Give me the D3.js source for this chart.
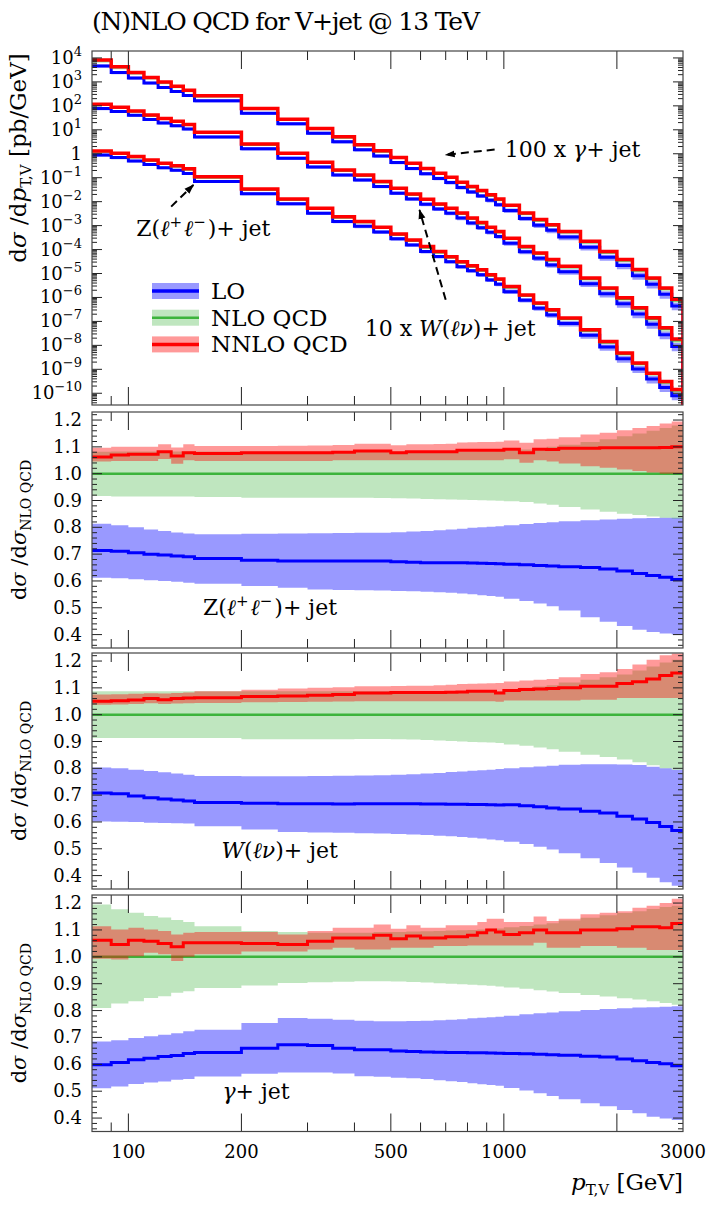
<!DOCTYPE html>
<html>
<head>
<meta charset="utf-8">
<script src="https://cdn.jsdelivr.net/npm/d3@7"></script>
<style>
  body { margin: 0; background: #fff; }
  text { font-family: "DejaVu Serif", "Liberation Serif", serif; fill: #000; }
</style>
</head>
<body>
<div id="chart"></div>
<script>
// ---- data ----
const binEdges = [80, 90, 100, 110, 120, 130, 140, 150, 200, 250, 300, 350, 400, 450, 500, 550, 600, 650, 700,
    750, 800, 850, 900, 950, 1000, 1100, 1200, 1300, 1400, 1600, 1800, 2000, 2200, 2400, 2600, 2800, 3000];

// NLO QCD dsigma/dpT [pb/GeV], unscaled
const nloGamma = [77.6, 40.7, 23.4, 14.5, 9.33, 6.31, 4.27, 2.51, 0.741, 0.263, 0.107, 0.0479, 0.0224, 0.0123,
    6.61e-3, 3.72e-3, 2.29e-3, 1.45e-3, 9.77e-4, 6.03e-4, 3.98e-4, 2.69e-4, 1.78e-4, 1.17e-4, 6.61e-5, 3.09e-5,
    1.62e-5, 1.00e-5, 5.25e-6, 2.00e-6, 7.59e-7, 3.47e-7, 1.32e-7, 5.89e-8, 2.24e-8, 7.41e-9];
const nloW = [11.0, 8.32, 5.75, 3.89, 2.82, 2.14, 1.58, 0.741, 0.240, 0.0977, 0.0417, 0.0195, 0.0120, 6.46e-3,
    3.39e-3, 1.95e-3, 1.17e-3, 7.41e-4, 4.90e-4, 3.09e-4, 1.91e-4, 1.23e-4, 7.94e-5, 5.25e-5, 2.75e-5, 1.23e-5,
    6.61e-6, 3.47e-6, 1.82e-6, 5.89e-7, 2.24e-7, 8.71e-8, 3.31e-8, 1.26e-8, 4.79e-9, 1.58e-9];
const nloZ = [1.23, 0.977, 0.708, 0.513, 0.372, 0.295, 0.219, 0.102, 0.0316, 0.0120, 4.90e-3, 2.19e-3, 1.38e-3,
    7.94e-4, 4.17e-4, 2.34e-4, 1.23e-4, 7.59e-5, 4.68e-5, 2.88e-5, 1.95e-5, 1.32e-5, 8.13e-6, 5.37e-6, 2.63e-6,
    1.17e-6, 5.37e-7, 2.82e-7, 1.26e-7, 4.07e-8, 1.32e-8, 4.37e-9, 1.66e-9, 6.31e-10, 2.82e-10, 1.29e-10];
const scaleFactors = {gamma: 100, w: 10, z: 1};

// ratios to NLO QCD : Z(ll)+jet
const zLO = [0.714, 0.711, 0.705, 0.700, 0.697, 0.693, 0.690, 0.684, 0.677, 0.674, 0.674, 0.674, 0.674, 0.674, 0.672, 0.670, 0.668, 0.668,
    0.668, 0.668, 0.667, 0.666, 0.665, 0.664, 0.662, 0.660, 0.658, 0.656, 0.653, 0.650, 0.645, 0.637, 0.628, 0.620, 0.614, 0.605];
const zLOlo = [0.612, 0.610, 0.606, 0.603, 0.600, 0.597, 0.593, 0.590, 0.581, 0.575, 0.568, 0.566, 0.565, 0.564, 0.563, 0.562, 0.560, 0.558,
    0.556, 0.553, 0.550, 0.547, 0.544, 0.541, 0.534, 0.525, 0.516, 0.506, 0.490, 0.465, 0.448, 0.432, 0.418, 0.410, 0.404, 0.400];
const zLOhi = [0.813, 0.808, 0.800, 0.792, 0.786, 0.781, 0.777, 0.774, 0.776, 0.777, 0.778, 0.779, 0.780, 0.780, 0.782, 0.784, 0.786, 0.789,
    0.792, 0.795, 0.798, 0.800, 0.802, 0.804, 0.808, 0.812, 0.816, 0.819, 0.823, 0.826, 0.829, 0.832, 0.834, 0.835, 0.836, 0.836];
const zNLOlo = [0.917, 0.915, 0.915, 0.915, 0.915, 0.915, 0.915, 0.913, 0.910, 0.910, 0.910, 0.910, 0.910, 0.909, 0.908, 0.907, 0.906, 0.905,
    0.904, 0.903, 0.902, 0.901, 0.900, 0.899, 0.897, 0.894, 0.889, 0.884, 0.876, 0.866, 0.858, 0.851, 0.846, 0.840, 0.836, 0.832];
const zNLOhi = [1.082, 1.083, 1.083, 1.083, 1.083, 1.083, 1.083, 1.083, 1.083, 1.083, 1.083, 1.083, 1.083, 1.083, 1.083, 1.083, 1.083, 1.083,
    1.083, 1.083, 1.083, 1.084, 1.084, 1.085, 1.086, 1.090, 1.095, 1.100, 1.108, 1.118, 1.128, 1.140, 1.150, 1.160, 1.170, 1.180];
const zNNLO = [1.062, 1.070, 1.072, 1.072, 1.082, 1.066, 1.078, 1.075, 1.078, 1.078, 1.078, 1.080, 1.085, 1.085, 1.078, 1.082, 1.082, 1.082,
    1.082, 1.087, 1.087, 1.087, 1.087, 1.087, 1.091, 1.078, 1.091, 1.090, 1.095, 1.095, 1.097, 1.097, 1.097, 1.097, 1.098, 1.100];
const zNNLOlo = [1.045, 1.047, 1.047, 1.047, 1.055, 1.037, 1.050, 1.047, 1.047, 1.047, 1.047, 1.050, 1.050, 1.050, 1.050, 1.050, 1.050, 1.050,
    1.050, 1.050, 1.050, 1.050, 1.050, 1.050, 1.054, 1.041, 1.050, 1.045, 1.038, 1.028, 1.022, 1.016, 1.010, 1.004, 1.000, 1.000];
const zNNLOhi = [1.097, 1.100, 1.100, 1.100, 1.110, 1.098, 1.110, 1.103, 1.103, 1.104, 1.105, 1.107, 1.112, 1.112, 1.106, 1.110, 1.110, 1.111,
    1.112, 1.116, 1.117, 1.118, 1.118, 1.119, 1.124, 1.115, 1.128, 1.130, 1.136, 1.146, 1.153, 1.162, 1.170, 1.178, 1.187, 1.195];

// ratios to NLO QCD : W(lv)+jet
const wLO = [0.708, 0.705, 0.697, 0.690, 0.686, 0.682, 0.678, 0.673, 0.670, 0.668, 0.668, 0.667, 0.668, 0.668, 0.668, 0.668, 0.667, 0.667,
    0.666, 0.666, 0.665, 0.665, 0.664, 0.663, 0.664, 0.660, 0.657, 0.652, 0.648, 0.640, 0.633, 0.621, 0.611, 0.598, 0.583, 0.568];
const wLOlo = [0.602, 0.601, 0.600, 0.597, 0.596, 0.595, 0.594, 0.584, 0.572, 0.563, 0.561, 0.560, 0.558, 0.557, 0.555, 0.553, 0.551, 0.549,
    0.547, 0.544, 0.541, 0.538, 0.535, 0.532, 0.526, 0.518, 0.508, 0.497, 0.483, 0.465, 0.447, 0.430, 0.411, 0.392, 0.375, 0.362];
const wLOhi = [0.803, 0.800, 0.795, 0.790, 0.785, 0.781, 0.776, 0.771, 0.770, 0.770, 0.771, 0.772, 0.773, 0.774, 0.776, 0.778, 0.781, 0.783,
    0.786, 0.788, 0.791, 0.793, 0.795, 0.797, 0.800, 0.804, 0.807, 0.810, 0.813, 0.815, 0.815, 0.814, 0.812, 0.806, 0.800, 0.795];
const wNLOlo = [0.913, 0.913, 0.913, 0.913, 0.913, 0.913, 0.913, 0.913, 0.908, 0.908, 0.908, 0.908, 0.909, 0.909, 0.908, 0.907, 0.906, 0.904,
    0.902, 0.900, 0.898, 0.897, 0.896, 0.894, 0.889, 0.884, 0.878, 0.871, 0.862, 0.851, 0.842, 0.833, 0.823, 0.811, 0.800, 0.795];
const wNLOhi = [1.087, 1.087, 1.087, 1.087, 1.087, 1.087, 1.087, 1.087, 1.087, 1.087, 1.087, 1.087, 1.087, 1.087, 1.087, 1.087, 1.087, 1.087,
    1.087, 1.087, 1.087, 1.087, 1.087, 1.087, 1.095, 1.100, 1.105, 1.110, 1.120, 1.130, 1.140, 1.150, 1.165, 1.180, 1.195, 1.205];
const wNNLO = [1.050, 1.052, 1.055, 1.060, 1.056, 1.060, 1.062, 1.063, 1.068, 1.070, 1.072, 1.075, 1.081, 1.081, 1.083, 1.083, 1.083, 1.083,
    1.084, 1.085, 1.087, 1.087, 1.087, 1.081, 1.090, 1.094, 1.096, 1.098, 1.100, 1.106, 1.106, 1.116, 1.123, 1.133, 1.146, 1.155];
const wNNLOlo = [1.037, 1.038, 1.040, 1.043, 1.040, 1.042, 1.043, 1.044, 1.046, 1.047, 1.048, 1.049, 1.050, 1.050, 1.050, 1.050, 1.050, 1.050,
    1.050, 1.050, 1.050, 1.050, 1.050, 1.048, 1.053, 1.053, 1.053, 1.053, 1.053, 1.056, 1.056, 1.062, 1.062, 1.062, 1.062, 1.062];
const wNNLOhi = [1.075, 1.076, 1.078, 1.080, 1.079, 1.081, 1.083, 1.087, 1.093, 1.098, 1.100, 1.102, 1.106, 1.106, 1.107, 1.108, 1.108, 1.110,
    1.112, 1.114, 1.115, 1.116, 1.117, 1.118, 1.124, 1.127, 1.130, 1.133, 1.140, 1.152, 1.158, 1.170, 1.187, 1.205, 1.222, 1.228];

// ratios to NLO QCD : gamma+jet
const gLO = [0.598, 0.607, 0.617, 0.623, 0.629, 0.633, 0.640, 0.644, 0.660, 0.673, 0.670, 0.660, 0.654, 0.654, 0.650, 0.648, 0.646, 0.645,
    0.644, 0.644, 0.643, 0.643, 0.642, 0.641, 0.640, 0.639, 0.637, 0.636, 0.634, 0.630, 0.627, 0.620, 0.613, 0.607, 0.602, 0.595];
const gLOlo = [0.511, 0.517, 0.527, 0.532, 0.536, 0.543, 0.545, 0.555, 0.565, 0.570, 0.570, 0.566, 0.556, 0.554, 0.550, 0.548, 0.545, 0.541,
    0.537, 0.534, 0.530, 0.526, 0.523, 0.520, 0.512, 0.503, 0.492, 0.482, 0.470, 0.455, 0.444, 0.430, 0.418, 0.405, 0.398, 0.393];
const gLOhi = [0.685, 0.690, 0.698, 0.704, 0.710, 0.716, 0.723, 0.729, 0.754, 0.772, 0.770, 0.766, 0.762, 0.760, 0.760, 0.761, 0.762, 0.764,
    0.766, 0.768, 0.771, 0.773, 0.775, 0.777, 0.781, 0.786, 0.790, 0.793, 0.797, 0.802, 0.806, 0.809, 0.811, 0.812, 0.814, 0.816];
const gNLOlo = [0.810, 0.826, 0.835, 0.847, 0.853, 0.866, 0.872, 0.884, 0.893, 0.903, 0.905, 0.907, 0.909, 0.909, 0.908, 0.906, 0.904, 0.902,
    0.900, 0.898, 0.896, 0.894, 0.892, 0.890, 0.886, 0.881, 0.876, 0.871, 0.865, 0.858, 0.852, 0.846, 0.841, 0.835, 0.828, 0.822];
const gNLOhi = [1.195, 1.177, 1.164, 1.152, 1.146, 1.137, 1.130, 1.114, 1.096, 1.092, 1.090, 1.090, 1.090, 1.092, 1.092, 1.094, 1.095, 1.096,
    1.098, 1.099, 1.100, 1.102, 1.104, 1.105, 1.110, 1.115, 1.120, 1.125, 1.135, 1.145, 1.155, 1.163, 1.170, 1.178, 1.185, 1.190];
const gNNLO = [1.062, 1.046, 1.062, 1.058, 1.050, 1.037, 1.052, 1.052, 1.050, 1.046, 1.058, 1.070, 1.070, 1.080, 1.067, 1.077, 1.070, 1.070,
    1.075, 1.075, 1.080, 1.090, 1.100, 1.092, 1.083, 1.090, 1.100, 1.090, 1.090, 1.100, 1.100, 1.104, 1.112, 1.112, 1.108, 1.124];
const gNNLOlo = [0.993, 0.990, 1.002, 1.015, 1.010, 0.984, 1.000, 1.010, 1.020, 1.020, 1.027, 1.034, 1.027, 1.027, 1.034, 1.034, 1.034, 1.040,
    1.040, 1.040, 1.042, 1.042, 1.042, 1.042, 1.042, 1.042, 1.052, 1.034, 1.034, 1.040, 1.040, 1.034, 1.034, 1.025, 1.025, 1.025];
const gNNLOhi = [1.114, 1.102, 1.108, 1.102, 1.096, 1.083, 1.090, 1.092, 1.092, 1.083, 1.096, 1.108, 1.108, 1.120, 1.104, 1.117, 1.108, 1.108,
    1.117, 1.117, 1.117, 1.130, 1.142, 1.142, 1.130, 1.130, 1.150, 1.133, 1.142, 1.158, 1.164, 1.170, 1.183, 1.190, 1.200, 1.216];

const xTicksMajor = [100, 200, 500, 1000, 2000];
const xTicksMinor = [90, 300, 400, 600, 700, 800, 900];
const xTickLabels = [100, 200, 500, 1000, 3000];
const ratioTicks = [0.4, 0.5, 0.6, 0.7, 0.8, 0.9, 1.0, 1.1, 1.2];

const colors = {lo: "#0000ff", nlo: "#3cb43c", nnlo: "#ff0000"};

// ---- layout ----
const width = 712, height = 1211;
const left = 92, right = 683;
const mainPanel = {top: 51, bottom: 405};
const ratioPanels = [
    {top: 412, bottom: 648, label: "z"},
    {top: 653, bottom: 889, label: "w"},
    {top: 895, bottom: 1131.5, label: "gamma"}
];

const svg = d3.select("#chart").append("svg")
    .attr("width", width)
    .attr("height", height)
    .style("display", "block");

const defs = svg.append("defs");
defs.append("marker")
    .attr("id", "arrow")
    .attr("viewBox", "0 0 10 10")
    .attr("refX", 9).attr("refY", 5)
    .attr("markerWidth", 5).attr("markerHeight", 5)
    .attr("markerUnits", "strokeWidth")
    .attr("orient", "auto")
    .append("path").attr("d", "M0,1.5 L10,5 L0,8.5 Z").attr("fill", "#000");

const x = d3.scaleLog().domain([80, 3000]).range([left, right]);

// points for a step path, value held until next edge
function stepPts(vals, lo, hi) {
    let pts = vals.map((v, i) => [binEdges[i], v, lo ? lo[i] : v, hi ? hi[i] : v]);
    let n = vals.length - 1;
    pts.push([binEdges[n + 1], vals[n], lo ? lo[n] : vals[n], hi ? hi[n] : vals[n]]);
    return pts;
}

function panelClip(id, p) {
    defs.append("clipPath").attr("id", id)
        .append("rect")
        .attr("x", left).attr("y", p.top)
        .attr("width", right - left).attr("height", p.bottom - p.top);
}

function xTicks(p) {
    let g = svg.append("g").attr("stroke", "#222").attr("stroke-width", 1);
    xTicksMajor.forEach(t => {
        g.append("line").attr("x1", x(t)).attr("x2", x(t)).attr("y1", p.bottom).attr("y2", p.bottom - 18);
        g.append("line").attr("x1", x(t)).attr("x2", x(t)).attr("y1", p.top).attr("y2", p.top + 18);
    });
    xTicksMinor.forEach(t => {
        g.append("line").attr("x1", x(t)).attr("x2", x(t)).attr("y1", p.bottom).attr("y2", p.bottom - 9);
        g.append("line").attr("x1", x(t)).attr("x2", x(t)).attr("y1", p.top).attr("y2", p.top + 9);
    });
}

function frame(p) {
    svg.append("rect")
        .attr("x", left).attr("y", p.top)
        .attr("width", right - left).attr("height", p.bottom - p.top)
        .attr("fill", "none").attr("stroke", "#444").attr("stroke-width", 1.2);
}

// ---- main panel ----
const y = d3.scaleLog().domain([Math.pow(10, -10.49), Math.pow(10, 4.29)]).range([mainPanel.bottom, mainPanel.top]);
panelClip("clipMain", mainPanel);

const mainG = svg.append("g").attr("clip-path", "url(#clipMain)");
const mainLine = d3.line().curve(d3.curveStepAfter).x(d => x(d[0])).y(d => y(d[1]));
const mainArea = d3.area().curve(d3.curveStepAfter).x(d => x(d[0])).y0(d => y(d[2])).y1(d => y(d[3]));

const processes = [
    {nlo: nloGamma, f: scaleFactors.gamma, lo: gLO, loLo: gLOlo, loHi: gLOhi, nloLo: gNLOlo, nloHi: gNLOhi, nnlo: gNNLO, nnloLo: gNNLOlo, nnloHi: gNNLOhi},
    {nlo: nloW, f: scaleFactors.w, lo: wLO, loLo: wLOlo, loHi: wLOhi, nloLo: wNLOlo, nloHi: wNLOhi, nnlo: wNNLO, nnloLo: wNNLOlo, nnloHi: wNNLOhi},
    {nlo: nloZ, f: scaleFactors.z, lo: zLO, loLo: zLOlo, loHi: zLOhi, nloLo: zNLOlo, nloHi: zNLOhi, nnlo: zNNLO, nnloLo: zNNLOlo, nnloHi: zNNLOhi}
];

processes.forEach(p => {
    const base = p.nlo.map(v => v * p.f);
    const mul = (arr) => arr.map((r, i) => r * base[i]);
    const orders = [
        {c: mul(p.lo), lo: mul(p.loLo), hi: mul(p.loHi), col: colors.lo, op: 0.4, w: 3},
        {c: base, lo: mul(p.nloLo), hi: mul(p.nloHi), col: colors.nlo, op: 0.33, w: 2},
        {c: mul(p.nnlo), lo: mul(p.nnloLo), hi: mul(p.nnloHi), col: colors.nnlo, op: 0.4, w: 3.5}
    ];
    orders.forEach(o => {
        const pts = stepPts(o.c, o.lo, o.hi);
        mainG.append("path").attr("d", mainArea(pts)).attr("fill", o.col).attr("fill-opacity", o.op);
        // histogram closes down to the floor at the last edge
        const linePts = pts.concat([[binEdges[binEdges.length - 1], 1e-12]]);
        mainG.append("path").attr("d", mainLine(linePts)).attr("fill", "none")
            .attr("stroke", o.col).attr("stroke-width", o.w);
    });
});

// main y ticks
const yTickG = svg.append("g").attr("stroke", "#222").attr("stroke-width", 1);
for (let e = -11; e <= 4; e++) {
    for (let m = 1; m <= 9; m++) {
        const v = m * Math.pow(10, e);
        const yy = y(v);
        if (yy < mainPanel.top || yy > mainPanel.bottom) continue;
        const len = m === 1 ? 10 : 5;
        yTickG.append("line").attr("x1", left).attr("x2", left + len).attr("y1", yy).attr("y2", yy);
        yTickG.append("line").attr("x1", right).attr("x2", right - len).attr("y1", yy).attr("y2", yy);
    }
}
for (let e = -10; e <= 4; e++) {
    const t = svg.append("text")
        .attr("x", 82).attr("y", y(Math.pow(10, e)) + 6)
        .attr("text-anchor", "end").style("font-size", "18px");
    if (e === 0) {
        t.text("1");
    } else {
        t.append("tspan").text("10");
        t.append("tspan").attr("dy", -8).style("font-size", "13px").text(e < 0 ? "\u2212" + (-e) : e);
    }
}
xTicks(mainPanel);
frame(mainPanel);

// main annotations (positioned in data coordinates)
function arrow(x1, y1, x2, y2) {
    svg.append("line")
        .attr("x1", x(x1)).attr("y1", y(y1)).attr("x2", x(x2)).attr("y2", y(y2))
        .attr("stroke", "#000").attr("stroke-width", 2)
        .attr("stroke-dasharray", "8,5")
        .attr("marker-end", "url(#arrow)");
}
arrow(945, 1.5, 700, 0.9);
arrow(700, 8e-7, 596, 4.5e-3);
arrow(130, 6.2e-3, 149, 0.05);

const annot = svg.append("g").style("font-size", "22px");
let t1 = annot.append("text").attr("x", x(1005)).attr("y", y(0.74));
t1.append("tspan").text("100 x ");
t1.append("tspan").style("font-style", "italic").text("\u03b3");
t1.append("tspan").text("+ jet");

let t2 = annot.append("text").attr("x", x(426)).attr("y", y(2.5e-8));
t2.append("tspan").text("10 x ");
t2.append("tspan").style("font-style", "italic").text("W");
t2.append("tspan").text("(");
t2.append("tspan").style("font-style", "italic").text("\u2113\u03bd");
t2.append("tspan").text(")+ jet");

function zLabel(sel) {
    sel.append("tspan").text("Z(");
    sel.append("tspan").style("font-style", "italic").text("\u2113");
    sel.append("tspan").attr("dy", -9).style("font-size", "15px").text("+");
    sel.append("tspan").attr("dy", 9).attr("dx", 2).style("font-style", "italic").text("\u2113");
    sel.append("tspan").attr("dy", -9).style("font-size", "15px").text("\u2212");
    sel.append("tspan").attr("dy", 9).attr("dx", 2).text(")+ jet");
}
zLabel(annot.append("text").attr("x", x(105)).attr("y", y(3.7e-4)));

// legend
const legend = svg.append("g").attr("transform", "translate(152,283)");
[["LO", colors.lo, 0.4, 3.5], ["NLO QCD", colors.nlo, 0.33, 2.5], ["NNLO QCD", colors.nnlo, 0.4, 3.5]].forEach((d, i) => {
    const gy = i * 26.7;
    legend.append("rect").attr("x", 0).attr("y", gy).attr("width", 47).attr("height", 16)
        .attr("fill", d[1]).attr("fill-opacity", d[2]);
    legend.append("line").attr("x1", 0).attr("x2", 47).attr("y1", gy + 8).attr("y2", gy + 8)
        .attr("stroke", d[1]).attr("stroke-width", d[3]);
    legend.append("text").attr("x", 59).attr("y", gy + 16).style("font-size", "23px").text(d[0]);
});

// title
svg.append("text").attr("x", 92).attr("y", 30).style("font-size", "25px")
    .attr("textLength", 388).attr("lengthAdjust", "spacing")
    .text("(N)NLO QCD for V+jet @ 13 TeV");

// main y label
const yl = svg.append("text")
    .attr("transform", "translate(26,158) rotate(-90)")
    .attr("text-anchor", "middle").style("font-size", "23px");
yl.append("tspan").text("d");
yl.append("tspan").style("font-style", "italic").text("\u03c3");
yl.append("tspan").text(" /d");
yl.append("tspan").style("font-style", "italic").text("p");
yl.append("tspan").attr("dy", 5).style("font-size", "15px").text("T,V");
yl.append("tspan").attr("dy", -5).text(" [pb/GeV]");

// ---- ratio panels ----
const ratioData = {
    z: processes[2], w: processes[1], gamma: processes[0]
};

ratioPanels.forEach((rp, k) => {
    const yr = d3.scaleLinear().domain([0.35, 1.23]).range([rp.bottom, rp.top]);
    const id = "clipR" + k;
    panelClip(id, rp);
    const g = svg.append("g").attr("clip-path", "url(#" + id + ")");
    const line = d3.line().curve(d3.curveStepAfter).x(d => x(d[0])).y(d => yr(d[1]));
    const area = d3.area().curve(d3.curveStepAfter).x(d => x(d[0])).y0(d => yr(d[2])).y1(d => yr(d[3]));
    const p = ratioData[rp.label];
    const ones = p.nlo.map(() => 1);
    const sets = [
        {c: p.lo, lo: p.loLo, hi: p.loHi, col: colors.lo, op: 0.4, w: 3},
        {c: ones, lo: p.nloLo, hi: p.nloHi, col: colors.nlo, op: 0.33, w: 2.5},
        {c: p.nnlo, lo: p.nnloLo, hi: p.nnloHi, col: colors.nnlo, op: 0.4, w: 3}
    ];
    sets.forEach(s => {
        const pts = stepPts(s.c, s.lo, s.hi);
        g.append("path").attr("d", area(pts)).attr("fill", s.col).attr("fill-opacity", s.op);
        g.append("path").attr("d", line(pts)).attr("fill", "none")
            .attr("stroke", s.col).attr("stroke-width", s.w);
    });

    // y ticks
    const tg = svg.append("g").attr("stroke", "#222").attr("stroke-width", 1);
    for (let v = 36; v <= 122; v += 2) {
        const val = v / 100;
        const major = v % 10 === 0;
        const len = major ? 10 : 5;
        tg.append("line").attr("x1", left).attr("x2", left + len).attr("y1", yr(val)).attr("y2", yr(val));
        tg.append("line").attr("x1", right).attr("x2", right - len).attr("y1", yr(val)).attr("y2", yr(val));
    }
    ratioTicks.forEach(v => {
        svg.append("text").attr("x", 82).attr("y", yr(v) + 6)
            .attr("text-anchor", "end").style("font-size", "18px").text(v.toFixed(1));
    });
    xTicks(rp);
    frame(rp);

    // y label
    const rl = svg.append("text")
        .attr("transform", "translate(26," + ((rp.top + rp.bottom) / 2) + ") rotate(-90)")
        .attr("text-anchor", "middle").style("font-size", "21px");
    rl.append("tspan").text("d");
    rl.append("tspan").style("font-style", "italic").text("\u03c3");
    rl.append("tspan").text(" /d");
    rl.append("tspan").style("font-style", "italic").text("\u03c3");
    rl.append("tspan").attr("dy", 5).style("font-size", "14px").text("NLO QCD");

    // process label
    const lab = svg.append("text").style("font-size", "22px");
    if (rp.label === "z") {
        lab.attr("x", x(158)).attr("y", yr(0.473));
        zLabel(lab);
    } else if (rp.label === "w") {
        lab.attr("x", x(177)).attr("y", yr(0.466));
        lab.append("tspan").style("font-style", "italic").text("W");
        lab.append("tspan").text("(");
        lab.append("tspan").style("font-style", "italic").text("\u2113\u03bd");
        lab.append("tspan").text(")+ jet");
    } else {
        lab.attr("x", x(178)).attr("y", yr(0.471));
        lab.append("tspan").style("font-style", "italic").text("\u03b3");
        lab.append("tspan").text("+ jet");
    }
});

// x tick labels and title
const lastPanel = ratioPanels[ratioPanels.length - 1];
xTickLabels.forEach(v => {
    svg.append("text")
        .attr("x", x(v))
        .attr("y", lastPanel.bottom + 26)
        .attr("text-anchor", "middle")
        .style("font-size", "18px").text(v);
});
const xl = svg.append("text").attr("x", right).attr("y", lastPanel.bottom + 58)
    .attr("text-anchor", "end").style("font-size", "23px");
xl.append("tspan").style("font-style", "italic").text("p");
xl.append("tspan").attr("dy", 5).style("font-size", "15px").text("T,V");
xl.append("tspan").attr("dy", -5).text(" [GeV]");
</script>
</body>
</html>
